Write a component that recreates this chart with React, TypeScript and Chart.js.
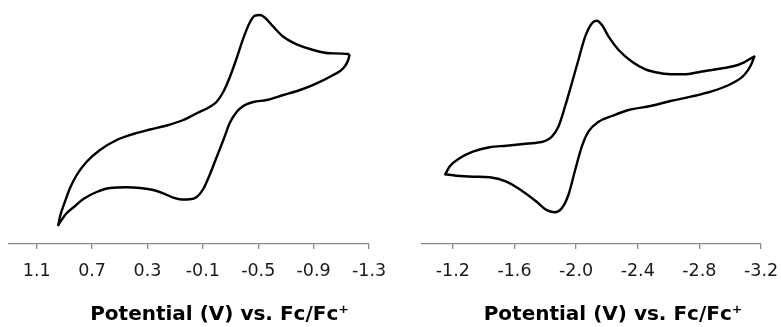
import React, { useEffect, useRef } from 'react';
import { Chart, registerables } from 'chart.js';

Chart.register(...registerables);

// ---------- Data (potential in V vs Fc/Fc+, current in arbitrary units) ----------
// Left voltammogram: forward (negative-going) scan
const leftFwdPotential = [0.944, 0.932, 0.896, 0.86, 0.811, 0.739, 0.643, 0.522, 0.402, 0.282, 0.161, 0.041, -0.056, -0.152, -0.2, -0.248, -0.296, -0.344, -0.392, -0.441, -0.477, -0.513, -0.549, -0.609, -0.681, -0.778, -0.898, -1.018, -1.15, -1.158];
const leftFwdCurrent = [1.9, 2.73, 4.23, 5.57, 6.9, 8.23, 9.4, 10.4, 11.0, 11.45, 11.85, 12.4, 13.07, 13.73, 14.23, 15.23, 16.73, 18.57, 20.57, 22.2, 22.83, 22.9, 22.63, 21.73, 20.73, 19.97, 19.4, 19.07, 19.0, 18.85];
// Left voltammogram: reverse (positive-going) scan
const leftRevPotential = [-1.158, -1.15, -1.114, -1.042, -0.922, -0.802, -0.681, -0.561, -0.464, -0.392, -0.344, -0.296, -0.248, -0.2, -0.152, -0.103, -0.056, -0.007, 0.053, 0.113, 0.186, 0.258, 0.354, 0.45, 0.571, 0.667, 0.763, 0.836, 0.883, 0.908, 0.944];
const leftRevCurrent = [18.85, 18.4, 17.57, 16.9, 16.07, 15.4, 14.9, 14.4, 14.2, 13.8, 13.2, 12.15, 10.4, 8.7, 7.0, 5.5, 4.7, 4.47, 4.45, 4.63, 5.07, 5.4, 5.6, 5.67, 5.6, 5.2, 4.5, 3.65, 3.1, 2.65, 1.9];

// Right voltammogram: forward (negative-going) scan
const rightFwdPotential = [-1.152, -1.178, -1.244, -1.33, -1.439, -1.548, -1.657, -1.765, -1.798, -1.842, -1.885, -1.928, -1.972, -2.015, -2.059, -2.103, -2.135, -2.168, -2.211, -2.276, -2.363, -2.45, -2.483, -2.592, -2.7, -2.809, -2.918, -3.026, -3.091, -3.146, -3.156];
const rightFwdCurrent = [6.97, 7.73, 8.57, 9.23, 9.67, 9.83, 10.0, 10.17, 10.3, 10.73, 11.73, 13.73, 16.07, 18.4, 20.73, 22.07, 22.33, 21.9, 20.73, 19.4, 18.23, 17.47, 17.3, 17.0, 16.97, 17.23, 17.5, 17.8, 18.17, 18.67, 18.73];
// Right voltammogram: reverse (positive-going) scan
const rightRevPotential = [-3.156, -3.135, -3.091, -3.004, -2.874, -2.744, -2.613, -2.483, -2.341, -2.233, -2.146, -2.08, -2.037, -1.994, -1.95, -1.907, -1.863, -1.824, -1.798, -1.744, -1.657, -1.548, -1.439, -1.33, -1.222, -1.152];
const rightRevCurrent = [18.73, 17.9, 16.9, 16.0, 15.23, 14.73, 14.3, 13.8, 13.4, 12.8, 12.23, 11.23, 9.73, 7.4, 4.9, 3.57, 3.17, 3.3, 3.5, 4.23, 5.23, 6.23, 6.67, 6.73, 6.83, 6.97];

// Tick labels
const leftTicks = [1.1, 0.7, 0.3, -0.1, -0.5, -0.9, -1.3];
const rightTicks = [-1.2, -1.6, -2.0, -2.4, -2.8, -3.2];
const axisTitle = 'Potential (V) vs. Fc/Fc\u207A';

const zip = (xs: number[], ys: number[]) => xs.map((x, i) => ({ x, y: ys[i] }));

type PanelProps = {
  left: number;
  width: number;
  xMin: number;
  xMax: number;
  ticks: number[];
  fwdV: number[];
  fwdI: number[];
  revV: number[];
  revI: number[];
  padLeft: number;
  padRight: number;
};

function Panel(p: PanelProps) {
  const ref = useRef<HTMLCanvasElement | null>(null);
  useEffect(() => {
    if (!ref.current) return;
    const lineStyle = {
      borderColor: '#000000',
      borderWidth: 2.4,
      pointRadius: 0,
      showLine: true,
      cubicInterpolationMode: 'monotone' as const,
      fill: false,
      borderCapStyle: 'round' as const,
      borderJoinStyle: 'round' as const,
    };
    const chart = new Chart(ref.current, {
      type: 'scatter',
      data: {
        datasets: [
          { label: 'Forward scan', data: zip(p.fwdV, p.fwdI), ...lineStyle },
          { label: 'Reverse scan', data: zip(p.revV, p.revI), ...lineStyle },
        ],
      },
      options: {
        animation: false,
        responsive: false,
        devicePixelRatio: 1,
        layout: { padding: 0 },
        plugins: {
          legend: { display: false },
          tooltip: { enabled: false },
          title: {
            display: true,
            position: 'bottom',
            text: axisTitle,
            color: '#000000',
            font: { family: 'DejaVu Sans', weight: 'bold', size: 20, lineHeight: 1.2 },
            padding: { top: 19, bottom: 0 },
          },
        },
        scales: {
          x: {
            type: 'linear',
            position: 'bottom',
            reverse: true,
            min: p.xMin,
            max: p.xMax,
            afterBuildTicks: (scale: any) => {
              scale.ticks = p.ticks.map((v) => ({ value: v }));
            },
            afterFit: (scale: any) => {
              scale.height = 40;
            },
            ticks: {
              color: '#1a1a1a',
              font: { family: 'DejaVu Sans', size: 17.5, lineHeight: 1.2 },
              padding: 12,
              maxRotation: 0,
              autoSkip: false,
              callback: (v: any) => Number(v).toFixed(1),
            },
            grid: {
              display: true,
              drawOnChartArea: false,
              drawTicks: true,
              tickLength: 5,
              color: '#8a8a8a',
              lineWidth: 1.3,
            },
            border: { display: true, color: '#8a8a8a', width: 1.3 },
          },
          y: {
            type: 'linear',
            position: 'left',
            min: 0,
            max: 24.4,
            grid: { display: false, drawTicks: false },
            border: { display: false },
            ticks: { display: false },
            afterFit: (scale: any) => {
              scale.width = p.padLeft;
            },
          },
          y2: {
            type: 'linear',
            position: 'right',
            min: 0,
            max: 24.4,
            grid: { display: false, drawTicks: false },
            border: { display: false },
            ticks: { display: false },
            afterFit: (scale: any) => {
              scale.width = p.padRight;
            },
          },
        },
      } as any,
    });
    return () => chart.destroy();
  }, []);
  return (
    <canvas
      ref={ref}
      width={p.width}
      height={327}
      style={{ position: 'absolute', left: p.left, top: 0, display: 'block' }}
    />
  );
}

export default function App() {
  return (
    <div
      style={{
        position: 'absolute',
        left: 0,
        top: 0,
        width: 781,
        height: 327,
        overflow: 'hidden',
        background: '#ffffff',
      }}
    >
      <Panel
        left={0}
        width={439}
        xMin={-1.3}
        xMax={1.3}
        ticks={leftTicks}
        fwdV={leftFwdPotential}
        fwdI={leftFwdCurrent}
        revV={leftRevPotential}
        revI={leftRevCurrent}
        padLeft={9}
        padRight={70}
      />
      <Panel
        left={420}
        width={386}
        xMin={-3.2}
        xMax={-1.0}
        ticks={rightTicks}
        fwdV={rightFwdPotential}
        fwdI={rightFwdCurrent}
        revV={rightRevPotential}
        revI={rightRevCurrent}
        padLeft={2}
        padRight={45}
      />
    </div>
  );
}
